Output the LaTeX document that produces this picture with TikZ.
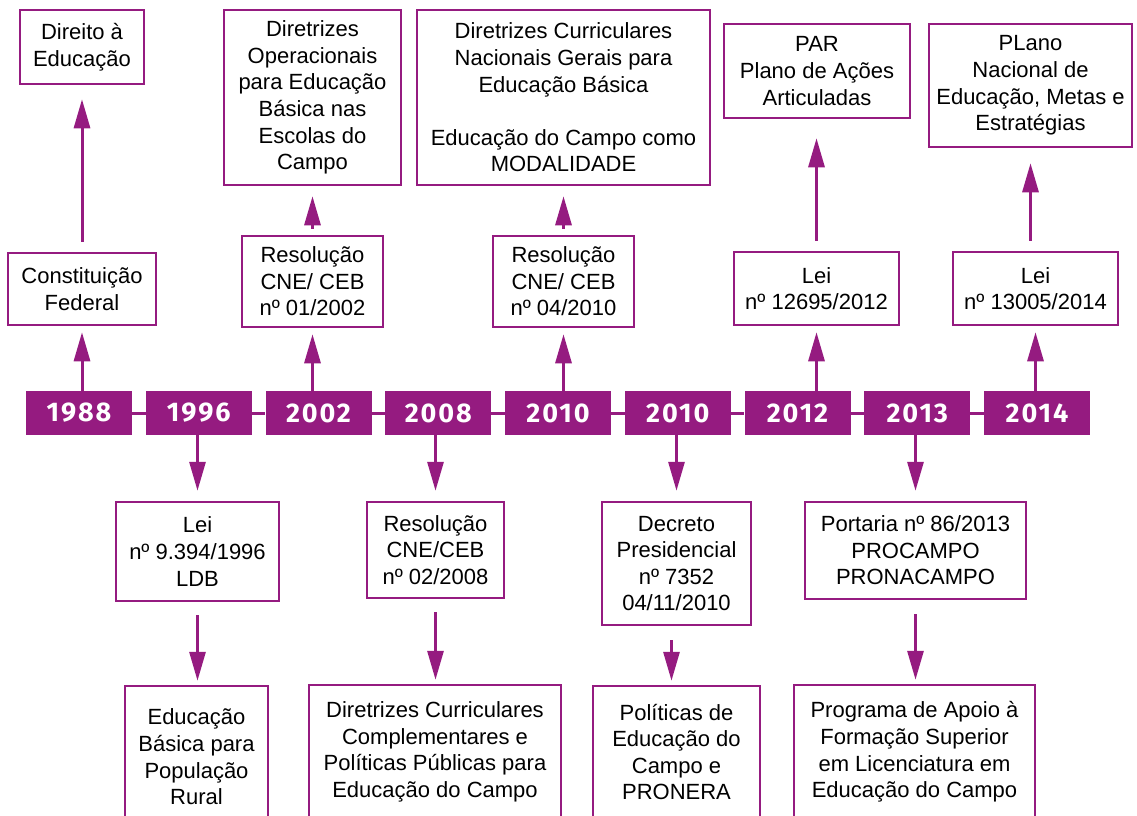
\documentclass[tikz,border=0pt]{standalone}
\usepackage{fontspec}
\setmainfont{Liberation Sans}
\newfontfamily\yearfont{Fira Sans}[LetterSpace=7]
\usetikzlibrary{arrows.meta}
\definecolor{campo}{RGB}{149,27,128}

\begin{document}
\begin{tikzpicture}[x=1pt, y=-1pt, node distance={119.75pt},
	year/.style = {fill=campo, text=white, minimum width=106pt, minimum height=44pt, inner sep=0pt, font=\yearfont\bfseries\fontsize{27}{30}\selectfont},
	box/.style = {draw=campo, line width=2.5pt, fill=white, align=center, inner sep=0pt, font=\fontsize{22}{26.6}\selectfont},
	link/.style = {draw=campo, line width=3pt, -{Triangle[length=29pt,width=16pt]}}]
		\useasboundingbox (0,0) rectangle (1137,815);
		\clip (0,0) rectangle (1137,815);

		\node[year] (y1988) at (79,413) {1988};
		\node[year] (y1996) [right of=y1988] {1996};
		\node[year] (y2002) [right of=y1996] {2002};
		\node[year] (y2008) [right of=y2002] {2008};
		\node[year] (y2010a) [right of=y2008] {2010};
		\node[year] (y2010b) [right of=y2010a] {2010};
		\node[year] (y2012) [right of=y2010b] {2012};
		\node[year] (y2013) [right of=y2012] {2013};
		\node[year] (y2014) [right of=y2013] {2014};
		\draw[campo, line width=3pt] (y1988) -- (y1996) -- (y2002) -- (y2008) -- (y2010a) -- (y2010b) -- (y2012) -- (y2013) -- (y2014);

		% above the line
		\node[box, minimum width=148pt, minimum height=72pt] (cf) at (82,289) {Constituição\\Federal};
		\node[box, minimum width=124pt, minimum height=74pt] (de) at (82,47) {Direito à\\Educação};
		\node[box, minimum width=141pt, minimum height=91pt] (r02) at (312.5,281.5) {Resolução\\CNE/ CEB\\nº 01/2002};
		\node[box, minimum width=177pt, minimum height=175pt] (doe) at (312.5,97.5) {Diretrizes\\Operacionais\\para Educação\\Básica nas\\Escolas do\\Campo};
		\node[box, minimum width=141pt, minimum height=91pt] (r10) at (563.5,281.5) {Resolução\\CNE/ CEB\\nº 04/2010};
		\node[box, minimum width=293pt, minimum height=175pt] (dcn) at (563.5,97.5) {Diretrizes Curriculares\\Nacionais Gerais para\\Educação Básica\\[26.6pt]Educação do Campo como\\MODALIDADE};
		\node[box, minimum width=165pt, minimum height=73pt] (l12) at (816.5,288.5) {Lei\\nº 12695/2012};
		\node[box, minimum width=186pt, minimum height=94pt] (par) at (817,71) {PAR\\Plano de Ações\\Articuladas};
		\node[box, minimum width=165pt, minimum height=73pt] (l14) at (1035.5,288.5) {Lei\\nº 13005/2014};
		\node[box, minimum width=203pt, minimum height=123pt] (pne) at (1030.5,85.5) {PLano\\Nacional de\\Educação, Metas e\\Estratégias};

		% below the line
		\node[box, minimum width=163pt, minimum height=99pt] (ldb) at (197.5,551.5) {Lei\\nº 9.394/1996\\LDB};
		\node[box, minimum width=143pt, minimum height=142pt] (ebr) at (196.5,757) {Educação\\Básica para\\População\\Rural};
		\node[box, minimum width=137pt, minimum height=96pt] (r08) at (435.5,550) {Resolução\\CNE/CEB\\nº 02/2008};
		\node[box, minimum width=252pt, minimum height=134pt] (dcc) at (435,752) {Diretrizes Curriculares\\Complementares e\\Políticas Públicas para\\Educação do Campo};
		\node[box, minimum width=149pt, minimum height=123pt] (dec) at (676.5,563.5) {Decreto\\Presidencial\\nº 7352\\04/11/2010};
		\node[box, minimum width=167pt, minimum height=132pt] (pec) at (676.5,752) {Políticas de\\Educação do\\Campo e\\PRONERA};
		\node[box, minimum width=221pt, minimum height=97pt] (por) at (915.5,550.5) {Portaria nº 86/2013\\PROCAMPO\\PRONACAMPO};
		\node[box, minimum width=241pt, minimum height=134pt] (pro) at (914.5,752) {Programa de Apoio à\\Formação Superior\\em Licenciatura em\\Educação do Campo};

		\draw[link, shorten >=6pt] (y1988.north -| cf) -- (cf.south);
		\draw[link, shorten <=10pt, shorten >=14pt] (cf.north) -- (de.south);
		\draw[link, shorten >=6pt] (y2002.north -| r02) -- (r02.south);
		\draw[link, shorten <=6pt, shorten >=10pt] (r02.north) -- (doe.south);
		\draw[link, shorten >=6pt] (y2010a.north -| r10) -- (r10.south);
		\draw[link, shorten <=6pt, shorten >=10pt] (r10.north) -- (dcn.south);
		\draw[link, shorten >=6pt] (y2012.north -| l12) -- (l12.south);
		\draw[link, shorten <=10pt, shorten >=19pt] (l12.north) -- (l12.north |- par.south);
		\draw[link, shorten >=6pt] (y2014.north -| l14) -- (l14.south);
		\draw[link, shorten <=10pt, shorten >=15pt] (l14.north -| pne) -- (pne.south);

		\draw[link, shorten >=10pt] (y1996.south -| ldb) -- (ldb.north);
		\draw[link, shorten <=13pt, shorten >=4pt] (ldb.south) -- (ldb.south |- ebr.north);
		\draw[link, shorten >=10pt] (y2008.south -| r08) -- (r08.north);
		\draw[link, shorten <=13pt, shorten >=4pt] (r08.south) -- (r08.south |- dcc.north);
		\draw[link, shorten >=10pt] (y2010b.south -| dec) -- (dec.north);
		\draw[link, shorten <=14pt, shorten >=4pt] ([xshift=-5pt]dec.south) -- ([xshift=-5pt]pec.north);
		\draw[link, shorten >=10pt] (y2013.south -| por) -- (por.north);
		\draw[link, shorten <=14pt, shorten >=4pt] (por.south) -- (por.south |- pro.north);
\end{tikzpicture}
\end{document}
